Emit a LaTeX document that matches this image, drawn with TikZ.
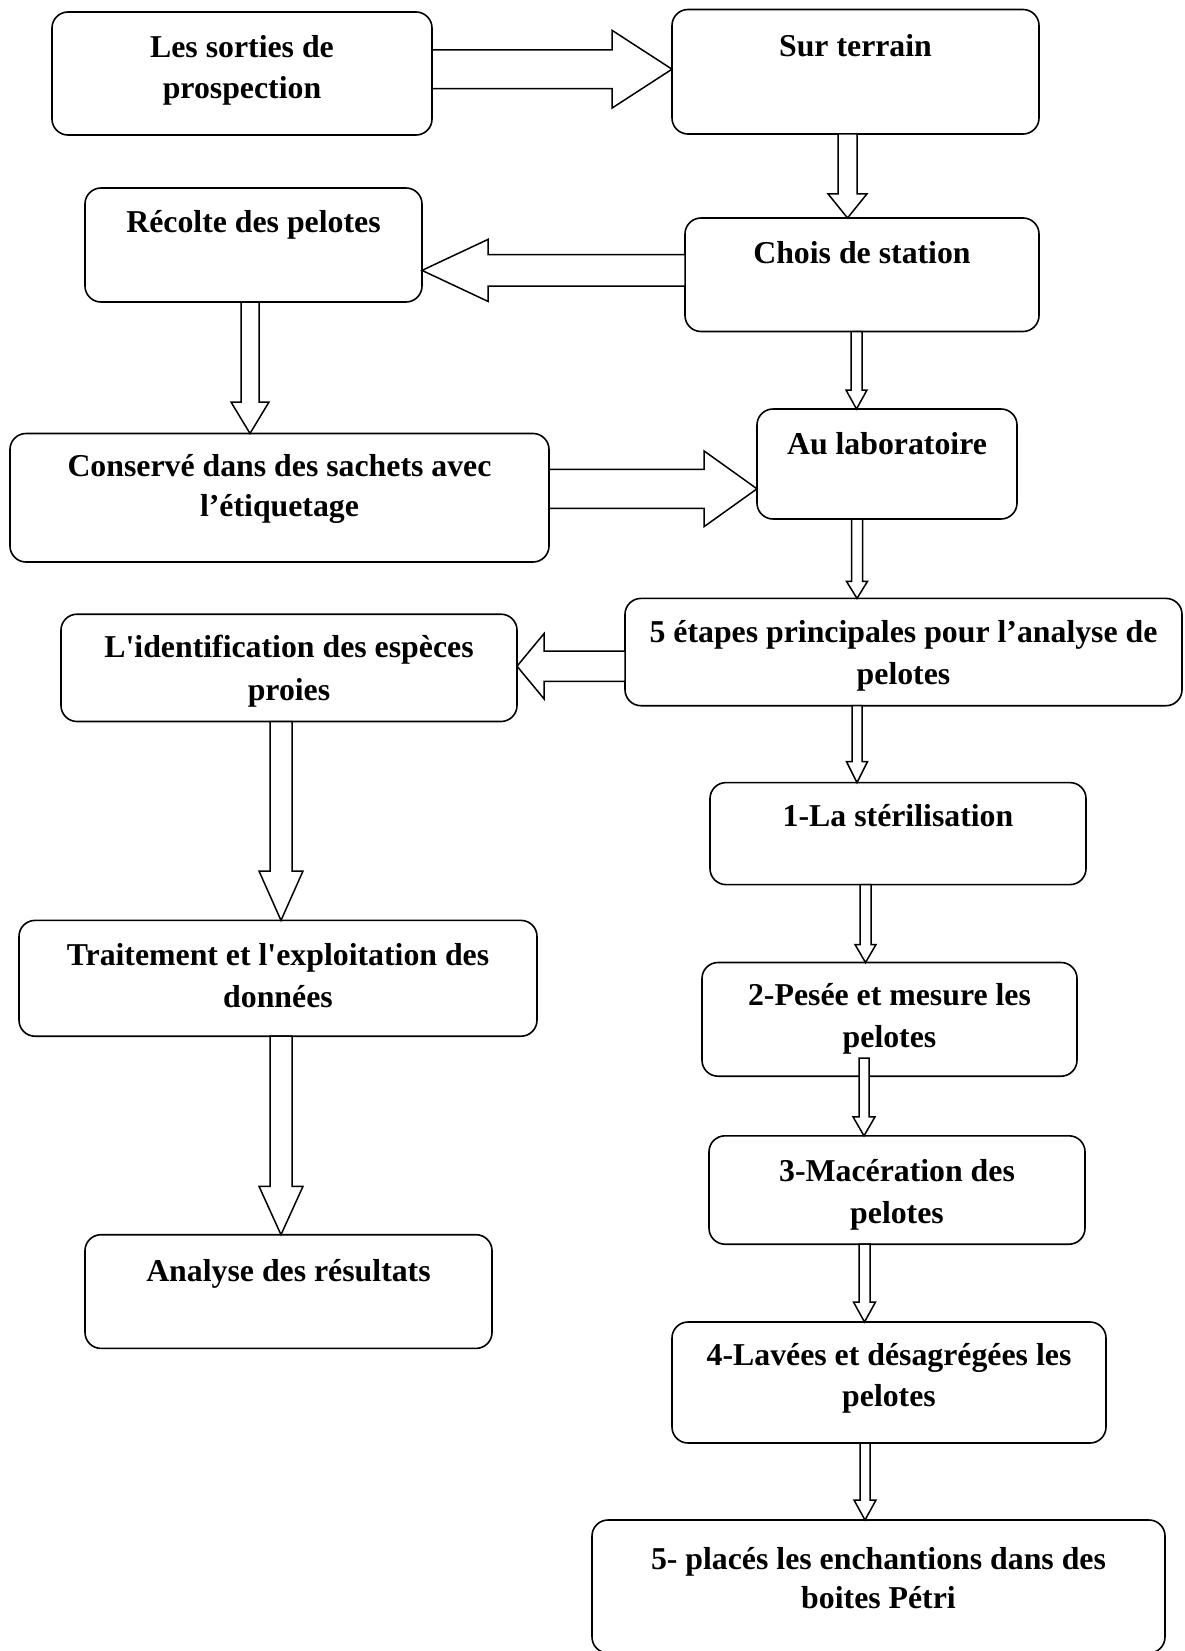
\documentclass[tikz,border=0pt]{standalone}
\usepackage{fontspec}
\setmainfont{Liberation Serif}
\usetikzlibrary{calc}

% rounded box from its top-left (x1,y1) to bottom-right (x2,y2), in px
\newcommand\flowbox[5]{%
  \node[stepbox, minimum width={(#4-#2)*1pt}, minimum height={(#5-#3)*1pt}] (#1) at (#2,#3) {};}
% one line of bold text, baseline #3 px below the top of box #2
\newcommand\boxline[4]{%
  \node[lbl] (#1) at ($(#2.north)+(0,#3)$) {#4};}
% hollow block arrows: shaft half-width, head half-width, head length (px)
\newcommand\downblock[7]{% from, to, x, shaft, head, head length, start overlap
  \draw[blockarrow] let \p1=(#1.south), \p2=(#2.north) in
    (#3pt-#4pt,\y1+#7pt) -- (#3pt-#4pt,\y2+#6pt) -- (#3pt-#5pt,\y2+#6pt) -- (#3pt,\y2)
    -- (#3pt+#5pt,\y2+#6pt) -- (#3pt+#4pt,\y2+#6pt) -- (#3pt+#4pt,\y1+#7pt) -- cycle;}
\newcommand\rightblock[6]{% from, to, y, shaft, head, head length
  \draw[blockarrow] let \p1=(#1.east), \p2=(#2.west) in
    (\x1,-#3pt+#4pt) -- (\x2-#6pt,-#3pt+#4pt) -- (\x2-#6pt,-#3pt+#5pt) -- (\x2,-#3pt)
    -- (\x2-#6pt,-#3pt-#5pt) -- (\x2-#6pt,-#3pt-#4pt) -- (\x1,-#3pt-#4pt) -- cycle;}
\newcommand\leftblock[6]{% from, to, y, shaft, head, head length
  \draw[blockarrow] let \p1=(#1.west), \p2=(#2.east) in
    (\x1,-#3pt+#4pt) -- (\x2+#6pt,-#3pt+#4pt) -- (\x2+#6pt,-#3pt+#5pt) -- (\x2,-#3pt)
    -- (\x2+#6pt,-#3pt-#5pt) -- (\x2+#6pt,-#3pt-#4pt) -- (\x1,-#3pt-#4pt) -- cycle;}

\begin{document}
\begin{tikzpicture}[x=1pt,y=-1pt,
  stepbox/.style={draw=black, line width=1.6pt, rounded corners=16pt, fill=white,
                  inner sep=0pt, outer sep=0pt, anchor=north west},
  lbl/.style={anchor=base, inner sep=0pt, font=\fontsize{31.8}{41}\selectfont\bfseries},
  blockarrow/.style={draw=black, line width=1.5pt, fill=white, line join=miter}]
\useasboundingbox (0,0) rectangle (1184,1651);
\clip (0,0) rectangle (1184,1651);

% boxes
\flowbox{b1}{52}{12}{432}{135}
\flowbox{b2}{672}{9.5}{1039}{134}
\flowbox{b3}{85}{188}{422}{302}
\flowbox{b4}{685}{218}{1039}{331.5}
\flowbox{b5}{10}{433.5}{549}{562}
\flowbox{b6}{757}{409}{1017}{519}
\flowbox{b7}{625}{598.4}{1182}{705.7}
\flowbox{b8}{61}{614.2}{517}{721.5}
\flowbox{b9}{710}{782.6}{1086}{884.6}
\flowbox{b10}{19}{920.4}{537}{1036.2}
\flowbox{b11}{702}{962.5}{1077}{1076.2}
\flowbox{b12}{709}{1135.8}{1085}{1244.2}
\flowbox{b13}{85}{1234.7}{492}{1348.4}
\flowbox{b14}{672}{1322}{1106}{1443}
\flowbox{b15}{592}{1520}{1165}{1653}

% arrows
\rightblock{b1}{b2}{69.2}{19.4}{38.9}{60}
\downblock{b2}{b4}{847.5}{9.5}{19.5}{24.2}{0}
\leftblock{b4}{b3}{270.4}{15.8}{31}{66}
\downblock{b3}{b5}{250}{9}{19}{31.5}{0}
\downblock{b4}{b6}{856.5}{5.5}{10.5}{19}{0}
\rightblock{b5}{b6}{488.8}{19.5}{37.9}{53}
\downblock{b6}{b7}{857}{5.5}{10.5}{17}{0}
\leftblock{b7}{b8}{666.2}{15.2}{32.6}{27}
\downblock{b7}{b9}{857}{5}{10.5}{21}{0}
\downblock{b8}{b10}{281}{11}{22}{49.4}{0}
\downblock{b9}{b11}{865.5}{5.5}{10.5}{18}{0}
\downblock{b11}{b12}{864}{5}{11}{19}{18}
\downblock{b10}{b13}{281}{11}{22}{48.4}{0}
\downblock{b12}{b14}{864.5}{5.5}{11}{20}{0}
\downblock{b14}{b15}{865}{5}{11}{20}{0}

% texts
\boxline{t1a}{b1}{46}{Les sorties de}
\boxline{t1b}{b1}{87}{prospection}
\boxline{t2}{b2}{47.5}{Sur terrain}
\boxline{t3}{b3}{44.6}{Récolte des pelotes}
\boxline{t4}{b4}{45}{Chois de station}
\boxline{t5a}{b5}{43.2}{Conservé dans des sachets avec}
\boxline{t5b}{b5}{83.2}{l’étiquetage}
\boxline{t6}{b6}{45.6}{Au laboratoire}
\boxline{t7a}{b7}{44.2}{5 étapes principales pour l’analyse de}
\boxline{t7b}{b7}{86.3}{pelotes}
\boxline{t8a}{b8}{43.1}{L\textquotesingle identification des espèces}
\boxline{t8b}{b8}{86.3}{proies}
\boxline{t9}{b9}{44.2}{1-La stérilisation}
\boxline{t10a}{b10}{45.3}{Traitement et l\textquotesingle exploitation des}
\boxline{t10b}{b10}{87.4}{données}
\boxline{t11a}{b11}{43.1}{2-Pesée et mesure les}
\boxline{t11b}{b11}{85.2}{pelotes}
\boxline{t12a}{b12}{45.2}{3-Macération des}
\boxline{t12b}{b12}{87.2}{pelotes}
\boxline{t13}{b13}{47.1}{Analyse des résultats}
\boxline{t14a}{b14}{43.2}{4-Lavées et désagrégées les}
\boxline{t14b}{b14}{84.3}{pelotes}
\boxline{t15a}{b15}{49.4}{5- placés les enchantions dans des}
\boxline{t15b}{b15}{88.3}{boites Pétri}
\end{tikzpicture}
\end{document}
